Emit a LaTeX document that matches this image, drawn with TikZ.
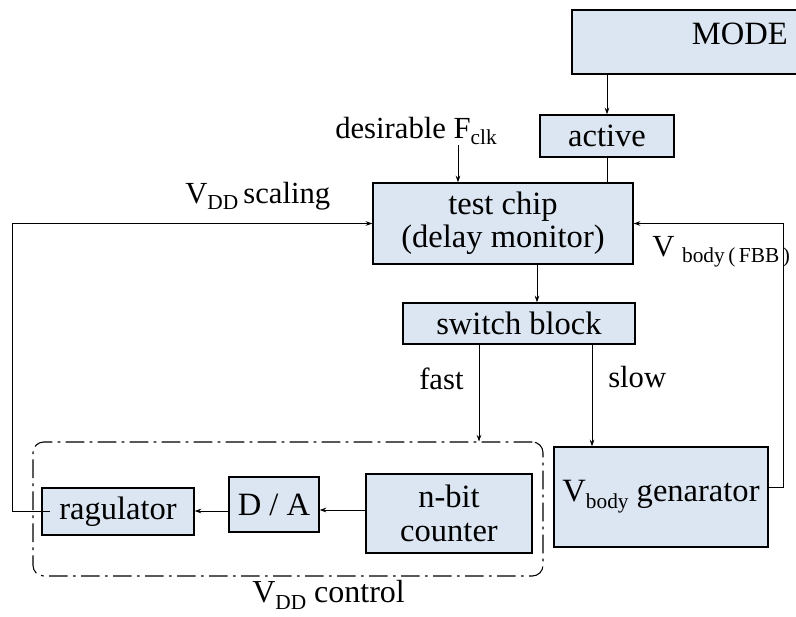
\documentclass[tikz,border=0pt]{standalone}
\usepackage{fontspec}
\setmainfont{Liberation Serif}
\usetikzlibrary{fit,arrows.meta}
\definecolor{boxfill}{RGB}{220,230,242}
\newcommand{\lowsub}[2][16]{\raisebox{-0.22em}{\fontsize{#1}{#1}\selectfont #2}}
\begin{document}
\begin{tikzpicture}[x=0.75pt,y=-0.75pt,
  box/.style={draw, fill=boxfill, line width=1pt, inner sep=0pt,
    font=\fontsize{24.4}{25}\selectfont, align=center},
  arr/.style={-{Stealth[length=5pt,width=3.5pt]}, line width=0.7pt},
  ln/.style={line width=0.7pt},
  lbl/.style={inner sep=0pt, font=\fontsize{23}{26}\selectfont},
  ctrlbox/.style={draw, line width=0.8pt, rounded corners=8pt, inner sep=0pt,
    dash pattern=on 14pt off 4pt on 2pt off 4pt}]
\useasboundingbox (0,0) rectangle (796,617);
% blocks
\node[box, fit={(572,10) (820,74)}] (mode) {};
\node[inner sep=0pt, font=\fontsize{24.4}{25}\selectfont, anchor=base east] (modetxt) at (788,45) {MODE};
\node[box, minimum width=100.5pt, minimum height=31.5pt] (active) at (607,136) {active};
\node[box, minimum width=195pt, minimum height=60.75pt] (chip) at (503,223.5) {test chip\\(delay monitor)};
\node[box, minimum width=174pt, minimum height=30.75pt] (switch) at (519,323.5) {switch block};
\node[box, minimum width=160.5pt, minimum height=75pt] (vbody) at (661,497) {V\lowsub{body} genarator};
\node[ctrlbox, fit={(33,442) (543,576)}] (ctrl) {};
\node[box, minimum width=114pt, minimum height=35.25pt] (reg) at (118,511.5) {ragulator};
\node[box, minimum width=67.5pt, minimum height=41.25pt] (da) at (274,504.5) {D / A};
\node[box, minimum width=124.5pt, minimum height=59.25pt] (cnt) at (449,513.5) {n-bit\\counter};
% labels
\node[lbl, anchor=base west] (des) at (335,138) {desirable F\lowsub{clk}};
\node[lbl, anchor=base west] (vdds) at (185,203) {V\lowsub{DD}\,scaling};
\node[lbl, anchor=base west] (vbf) at (652,256) {V\ \lowsub{body\,(\,FBB\,)}};
\node[lbl, anchor=base west] (fast) at (419,389) {fast};
\node[lbl, anchor=base west] (slow) at (608,387) {slow};
\node[lbl, font=\fontsize{24}{26}\selectfont, anchor=base west] (vddc) at (252,602) {V\lowsub{DD}\ control};
% coordinates
\coordinate (desin) at (458,145);
\coordinate (lt) at (12,223.5);
\coordinate (rt) at (783,223.5);
\coordinate (regin) at (50,511);
\coordinate (vbout) at (768,487);
% connectors
\draw[arr] (mode.south -| active.north) -- (active.north);
\draw[ln] (active.south) -- (active.south |- chip.north);
\draw[arr] (desin) -- (desin |- chip.north);
\draw[arr] (chip.south -| 537,0) -- (switch.north -| 537,0);
\draw[arr] (switch.south -| 479,0) -- (ctrl.north -| 479,0);
\draw[arr] (switch.south -| 592,0) -- (vbody.north -| 592,0);
\draw[arr] (vbout) -| (rt) -- (chip.east |- rt);
\draw[arr] (regin) -| (lt) -- (chip.west |- lt);
\draw[line width=1.4pt] (312,223.5) -- (360,223.5);
\draw[line width=1.4pt] (688,223.5) -- (711,223.5);
\draw[arr] (cnt.west |- 0,510) -- (da.east |- 0,510);
\draw[arr] (da.west |- 0,511) -- (reg.east |- 0,511);
\end{tikzpicture}
\end{document}
